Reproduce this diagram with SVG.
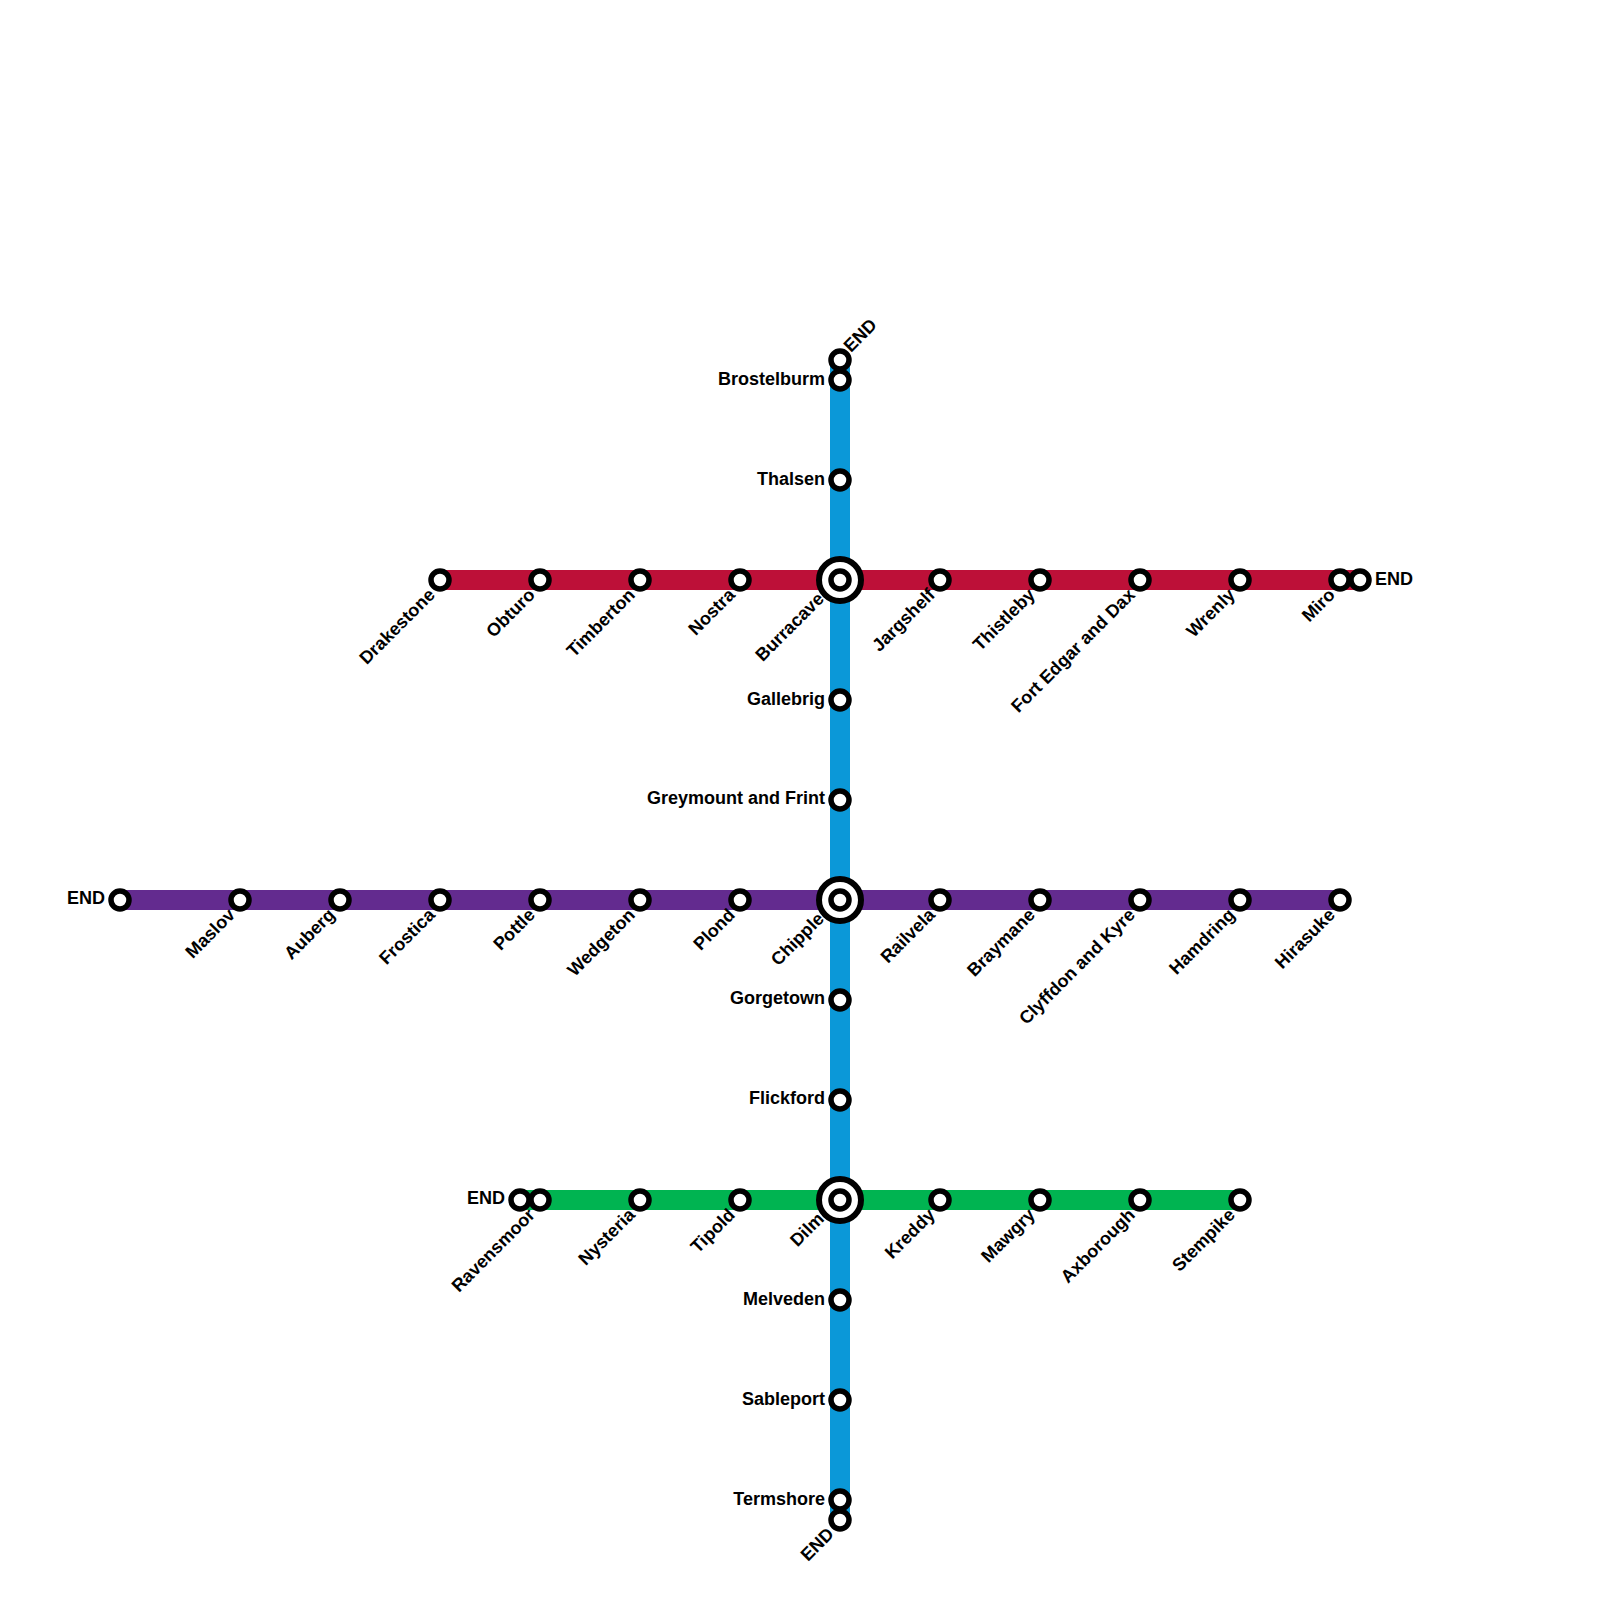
<svg xmlns="http://www.w3.org/2000/svg" width="1600" height="1600" viewBox="0 0 1600 1600">
<style>
.l{fill:none;stroke-width:20}
.s{fill:#fff;stroke:#000;stroke-width:5.5}
.o{fill:#fff;stroke:#000;stroke-width:6}
text{font-family:"Liberation Sans",Arial,sans-serif;font-weight:bold;font-size:18px;fill:#000}
.e{text-anchor:end}
</style>
<rect width="1600" height="1600" fill="#fff"/>
<g id="connectors">
<path class="l" stroke="#0b98d8" d="M840 360V1520"/>
<path class="l" stroke="#bd1038" d="M440 580H1360"/>
<path class="l" stroke="#632b8f" d="M120 900H1340"/>
<path class="l" stroke="#00b451" d="M520 1200H1240"/>
</g>
<g id="n1"><circle class="s" cx="840" cy="360" r="9"/><text transform="translate(851 353) rotate(-45)">END</text></g>
<g id="n2"><circle class="s" cx="840" cy="380" r="9"/><text class="e" x="825" y="385">Brostelburm</text></g>
<g id="n3"><circle class="s" cx="840" cy="480" r="9"/><text class="e" x="825" y="485">Thalsen</text></g>
<g id="n4"><circle class="o" cx="840" cy="580" r="21"/><circle class="s" cx="840" cy="580" r="9"/><text class="e" transform="translate(825 600) rotate(-45)">Burracave</text></g>
<g id="n5"><circle class="s" cx="840" cy="700" r="9"/><text class="e" x="825" y="705">Gallebrig</text></g>
<g id="n6"><circle class="s" cx="840" cy="800" r="9"/><text class="e" x="825" y="804">Greymount and Frint</text></g>
<g id="n7"><circle class="o" cx="840" cy="900" r="21"/><circle class="s" cx="840" cy="900" r="9"/><text class="e" transform="translate(825 920) rotate(-45)">Chipple</text></g>
<g id="n8"><circle class="s" cx="840" cy="1000" r="9"/><text class="e" x="825" y="1004">Gorgetown</text></g>
<g id="n9"><circle class="s" cx="840" cy="1100" r="9"/><text class="e" x="825" y="1104">Flickford</text></g>
<g id="n10"><circle class="o" cx="840" cy="1200" r="21"/><circle class="s" cx="840" cy="1200" r="9"/><text class="e" transform="translate(825 1220) rotate(-45)">Dilm</text></g>
<g id="n11"><circle class="s" cx="840" cy="1300" r="9"/><text class="e" x="825" y="1305">Melveden</text></g>
<g id="n12"><circle class="s" cx="840" cy="1400" r="9"/><text class="e" x="825" y="1405">Sableport</text></g>
<g id="n13"><circle class="s" cx="840" cy="1500" r="9"/><text class="e" x="825" y="1505">Termshore</text></g>
<g id="n14"><circle class="s" cx="840" cy="1520" r="9"/><text class="e" transform="translate(835 1535) rotate(-45)">END</text></g>
<g id="r1"><circle class="s" cx="440" cy="580" r="9"/><text class="e" transform="translate(436 596) rotate(-45)">Drakestone</text></g>
<g id="r2"><circle class="s" cx="540" cy="580" r="9"/><text class="e" transform="translate(536 596) rotate(-45)">Obturo</text></g>
<g id="r3"><circle class="s" cx="640" cy="580" r="9"/><text class="e" transform="translate(636 596) rotate(-45)">Timberton</text></g>
<g id="r4"><circle class="s" cx="740" cy="580" r="9"/><text class="e" transform="translate(736 596) rotate(-45)">Nostra</text></g>
<g id="r5"><circle class="s" cx="940" cy="580" r="9"/><text class="e" transform="translate(936 596) rotate(-45)">Jargshelf</text></g>
<g id="r6"><circle class="s" cx="1040" cy="580" r="9"/><text class="e" transform="translate(1036 596) rotate(-45)">Thistleby</text></g>
<g id="r7"><circle class="s" cx="1140" cy="580" r="9"/><text class="e" transform="translate(1136 596) rotate(-45)">Fort Edgar and Dax</text></g>
<g id="r8"><circle class="s" cx="1240" cy="580" r="9"/><text class="e" transform="translate(1236 596) rotate(-45)">Wrenly</text></g>
<g id="r9"><circle class="s" cx="1340" cy="580" r="9"/><text class="e" transform="translate(1336 596) rotate(-45)">Miro</text></g>
<g id="r10"><circle class="s" cx="1360" cy="580" r="9"/><text x="1375" y="585">END</text></g>
<g id="p0"><circle class="s" cx="120" cy="900" r="9"/><text class="e" x="105" y="904">END</text></g>
<g id="p1"><circle class="s" cx="240" cy="900" r="9"/><text class="e" transform="translate(236 916) rotate(-45)">Maslov</text></g>
<g id="p2"><circle class="s" cx="340" cy="900" r="9"/><text class="e" transform="translate(336 916) rotate(-45)">Auberg</text></g>
<g id="p3"><circle class="s" cx="440" cy="900" r="9"/><text class="e" transform="translate(436 916) rotate(-45)">Frostica</text></g>
<g id="p4"><circle class="s" cx="540" cy="900" r="9"/><text class="e" transform="translate(536 916) rotate(-45)">Pottle</text></g>
<g id="p5"><circle class="s" cx="640" cy="900" r="9"/><text class="e" transform="translate(636 916) rotate(-45)">Wedgeton</text></g>
<g id="p6"><circle class="s" cx="740" cy="900" r="9"/><text class="e" transform="translate(736 916) rotate(-45)">Plond</text></g>
<g id="p7"><circle class="s" cx="940" cy="900" r="9"/><text class="e" transform="translate(936 916) rotate(-45)">Railvela</text></g>
<g id="p8"><circle class="s" cx="1040" cy="900" r="9"/><text class="e" transform="translate(1036 916) rotate(-45)">Braymane</text></g>
<g id="p9"><circle class="s" cx="1140" cy="900" r="9"/><text class="e" transform="translate(1136 916) rotate(-45)">Clyffdon and Kyre</text></g>
<g id="p10"><circle class="s" cx="1240" cy="900" r="9"/><text class="e" transform="translate(1236 916) rotate(-45)">Hamdring</text></g>
<g id="p11"><circle class="s" cx="1340" cy="900" r="9"/><text class="e" transform="translate(1336 916) rotate(-45)">Hirasuke</text></g>
<g id="g0"><circle class="s" cx="520" cy="1200" r="9"/><text class="e" x="505" y="1204">END</text></g>
<g id="g1"><circle class="s" cx="540" cy="1200" r="9"/><text class="e" transform="translate(536 1216) rotate(-45)">Ravensmoor</text></g>
<g id="g2"><circle class="s" cx="640" cy="1200" r="9"/><text class="e" transform="translate(636 1216) rotate(-45)">Nysteria</text></g>
<g id="g3"><circle class="s" cx="740" cy="1200" r="9"/><text class="e" transform="translate(736 1216) rotate(-45)">Tipold</text></g>
<g id="g4"><circle class="s" cx="940" cy="1200" r="9"/><text class="e" transform="translate(936 1216) rotate(-45)">Kreddy</text></g>
<g id="g5"><circle class="s" cx="1040" cy="1200" r="9"/><text class="e" transform="translate(1036 1216) rotate(-45)">Mawgry</text></g>
<g id="g6"><circle class="s" cx="1140" cy="1200" r="9"/><text class="e" transform="translate(1136 1216) rotate(-45)">Axborough</text></g>
<g id="g7"><circle class="s" cx="1240" cy="1200" r="9"/><text class="e" transform="translate(1236 1216) rotate(-45)">Stempike</text></g>
</svg>
